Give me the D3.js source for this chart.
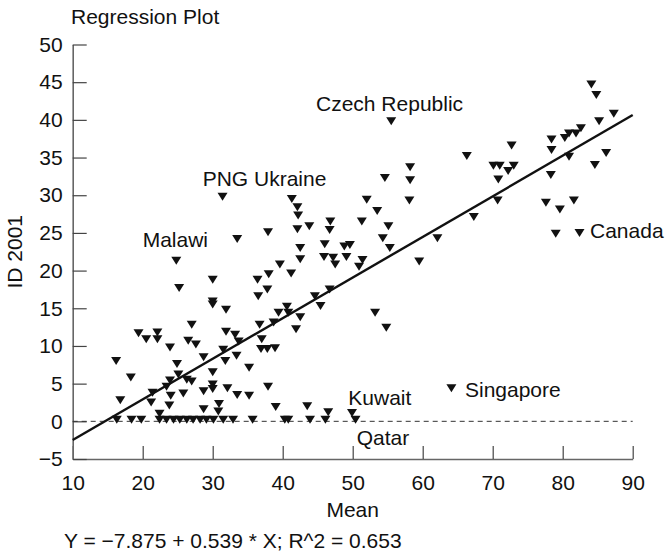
<!DOCTYPE html>
<html>
<head>
<meta charset="utf-8">
<script src="https://cdn.jsdelivr.net/npm/d3@7"></script>
<style>
  body { margin: 0; background: #fff; }
  svg { display: block; font-family: "Liberation Sans", Arial, sans-serif; }
</style>
</head>
<body>
<svg id="chart" width="665" height="560"></svg>
<script>
// Mean (x) and ID 2001 (y) for each country
const meanVals = [
  // bottom row, near zero
  16.3, 18.4, 19.8, 22.4, 23.4, 24.4, 25.3, 26.3, 27.2, 28.2, 29.1, 30.1, 31.5, 32.9, 35.7, 40.3, 40.8, 43.9, 46.1, 50.4,
  22.4, 28.7, 30.8, 30.9, 39.0, 43.5, 46.5, 49.9,
  // lower left
  16.8, 21.2, 23.8, 21.4, 24.0, 25.8, 23.4, 23.9, 26.3, 27.0, 25.1, 18.3, 16.2, 24.9, 23.9, 26.5, 27.6, 19.4, 20.5, 22.1, 22.1, 27.0, 25.2, 24.8,
  // middle
  28.7, 30.0, 30.0, 32.1, 33.5, 35.2, 37.9, 30.0, 31.8, 35.2, 28.7, 33.4, 31.5, 36.9, 37.8, 38.9, 33.7, 37.0, 31.9, 33.2,
  36.7, 38.7, 41.9, 42.5, 39.4, 40.8, 40.6, 31.9, 30.0, 30.0, 36.5, 37.8, 30.0, 36.4, 38.0, 41.2, 39.6, 42.5,
  // upper middle
  31.4, 41.3, 42.1, 42.2, 42.1, 43.8, 46.8, 46.7, 37.9, 33.5, 46.0, 42.5, 45.9, 47.2, 47.5, 48.8, 49.6, 49.1, 51.4, 50.9,
  52.0, 53.5, 51.3, 55.1, 54.3, 55.3, 54.6, 44.6, 46.7, 45.4, 53.2, 54.8, 55.5, 58.2, 58.2, 58.1, 59.5,
  // right
  62.1, 66.3, 67.3, 70.1, 71.0, 73.0, 72.2, 70.8, 70.7, 72.7, 64.1,
  84.1, 84.8, 87.3, 85.2, 82.6, 81.9, 80.9, 80.3, 78.4, 78.4, 80.9, 86.2, 84.6, 78.3, 77.6, 79.6, 81.6, 79.0, 82.4
];
const idVals = [
  0.2, 0.2, 0.2, 0.2, 0.2, 0.2, 0.2, 0.2, 0.2, 0.2, 0.2, 0.2, 0.2, 0.2, 0.2, 0.2, 0.2, 0.2, 0.2, 0.2,
  1.0, 1.6, 1.3, 2.3, 1.9, 2.0, 1.2, 1.1,
  2.8, 2.5, 2.1, 3.8, 3.4, 3.7, 4.6, 5.4, 5.5, 5.3, 6.2, 5.8, 8.0, 7.6, 9.8, 10.7, 10.2, 11.7, 10.9, 11.8, 10.9, 12.8, 17.7, 21.3,
  4.0, 4.9, 4.3, 4.4, 3.5, 3.4, 4.6, 6.5, 8.0, 7.1, 8.5, 8.7, 9.5, 9.6, 9.6, 9.7, 10.6, 10.9, 11.9, 11.5,
  12.8, 13.1, 12.2, 13.8, 14.4, 14.4, 15.2, 14.8, 15.9, 15.5, 16.6, 17.5, 18.8, 18.8, 19.5, 19.6, 20.8, 21.5,
  29.8, 29.5, 28.4, 27.3, 25.5, 25.9, 26.5, 25.4, 25.1, 24.2, 23.5, 23.0, 21.8, 21.7, 20.8, 23.2, 23.4, 21.8, 21.4, 20.5,
  29.4, 27.9, 26.5, 25.9, 24.3, 23.0, 32.3, 16.6, 17.5, 15.3, 14.4, 12.4, 39.8, 33.7, 32.0, 29.3, 21.2,
  24.3, 35.2, 27.1, 33.9, 33.9, 33.9, 33.2, 32.1, 29.3, 36.6, 4.4,
  44.7, 43.3, 40.8, 39.8, 38.9, 38.2, 38.2, 37.6, 37.4, 36.0, 35.1, 35.6, 34.0, 32.7, 29.0, 28.1, 29.3, 24.9, 25.0
];

// labelled countries, anchored in data units (left edge, baseline)
const labelNames = ["Czech Republic", "PNG Ukraine", "Malawi", "Canada", "Kuwait", "Singapore", "Qatar"];
const labelMean = [44.76, 28.57, 20.0, 83.9, 49.37, 66.04, 50.57];
const labelId = [41.2, 31.26, 23.13, 24.36, 2.21, 3.28, -3.09];

const xTicks = [10, 20, 30, 40, 50, 60, 70, 80, 90];
const yTicks = [-5, 0, 5, 10, 15, 20, 25, 30, 35, 40, 45, 50];

const intercept = -7.875;
const slope = 0.539;
const rSquared = 0.653;

const svg = d3.select("#chart");
const margin = { top: 44.5, right: 32.3, bottom: 101, left: 72.7 };
const width = 665, height = 560;
const fontSize = "21px";

const x = d3.scaleLinear()
  .domain([10, 90])
  .range([margin.left, width - margin.right]);

const y = d3.scaleLinear()
  .domain([-5, 50])
  .range([height - margin.bottom, margin.top]);

const axisColor = "#666";

// axes, ticks point inward
const gx = svg.append("g")
  .attr("transform", `translate(0,${height - margin.bottom})`)
  .call(d3.axisBottom(x).tickValues(xTicks).tickSizeInner(-13).tickSizeOuter(0).tickPadding(16));

const gy = svg.append("g")
  .attr("transform", `translate(${margin.left},0)`)
  .call(d3.axisLeft(y).tickValues(yTicks).tickSizeInner(-14).tickSizeOuter(0).tickPadding(10));

[gx, gy].forEach(g => {
  g.select(".domain").attr("stroke", axisColor).attr("stroke-width", 1.6);
  g.selectAll(".tick line").attr("stroke", "#444").attr("stroke-width", 1.2);
  g.selectAll(".tick text")
    .attr("fill", "#111")
    .style("font-size", fontSize)
    .style("font-family", "'Liberation Sans', Arial, sans-serif");
});

// dashed zero line
svg.append("line")
  .attr("x1", x(10))
  .attr("x2", x(90))
  .attr("y1", y(0))
  .attr("y2", y(0))
  .attr("stroke", "#333")
  .attr("stroke-width", 1)
  .attr("stroke-dasharray", "5,4");

// points (down triangles)
const points = meanVals.map((m, i) => ({ m, id: idVals[i] }));
svg.append("g")
  .selectAll("path")
  .data(points)
  .join("path")
  .attr("transform", d => `translate(${x(d.m)},${y(d.id)})`)
  .attr("d", "M-5,-4L5,-4L0,4Z")
  .attr("fill", "#111");

// regression line
const line = d3.line()
  .x(d => x(d))
  .y(d => y(intercept + slope * d));

svg.append("path")
  .datum([10, 90])
  .attr("fill", "none")
  .attr("stroke", "#111")
  .attr("stroke-width", 2.4)
  .attr("d", line);

// country labels
svg.append("g")
  .selectAll("text")
  .data(labelNames)
  .join("text")
  .attr("x", (d, i) => x(labelMean[i]))
  .attr("y", (d, i) => y(labelId[i]))
  .attr("fill", "#111")
  .style("font-size", fontSize)
  .text(d => d);

// titles
svg.append("text")
  .attr("x", 71)
  .attr("y", 24)
  .attr("fill", "#111")
  .style("font-size", fontSize)
  .text("Regression Plot");

svg.append("text")
  .attr("x", (x(10) + x(90)) / 2)
  .attr("y", 517)
  .attr("text-anchor", "middle")
  .attr("fill", "#111")
  .style("font-size", fontSize)
  .text("Mean");

svg.append("text")
  .attr("transform", `translate(22,${(y(-5) + y(50)) / 2}) rotate(-90)`)
  .attr("text-anchor", "middle")
  .attr("fill", "#111")
  .style("font-size", fontSize)
  .text("ID 2001");

svg.append("text")
  .attr("x", 64)
  .attr("y", 548)
  .attr("fill", "#111")
  .style("font-size", fontSize)
  .text(`Y = −${Math.abs(intercept).toFixed(3)} + ${slope.toFixed(3)} * X; R^2 = ${rSquared.toFixed(3)}`);
</script>
</body>
</html>
